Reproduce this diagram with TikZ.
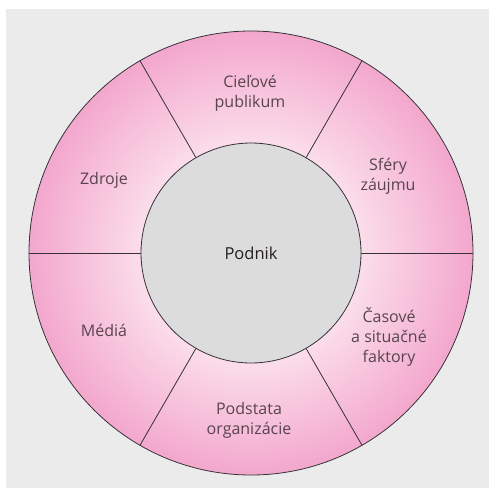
\documentclass[tikz,border=0pt]{standalone}
\usepackage{fontspec}
\setmainfont{Open Sans}
\definecolor{bggray}{RGB}{235,235,236}
\definecolor{coregray}{RGB}{220,220,221}
\definecolor{ringin}{RGB}{251,221,234}
\definecolor{ringout}{RGB}{243,167,205}
\definecolor{linegray}{RGB}{55,50,55}
\definecolor{lbltext}{RGB}{88,68,80}
\pgfdeclareradialshading{ringshade}{\pgfpoint{0bp}{0bp}}{color(0bp)=(ringin); color(12.4bp)=(ringin); color(25bp)=(ringout); color(50bp)=(ringout)}

\begin{document}
\begin{tikzpicture}[x=1pt,y=1pt,
    lbl/.style={align=center, text=lbltext, font=\fontsize{16}{20}\selectfont},
    divider/.style={draw=linegray, line width=0.8pt}]
    \useasboundingbox (-251,253) rectangle (238,-235);
    \fill[bggray] (-245,244) rectangle (238,-235);
    \shade[shading=ringshade] (0,0) circle [radius=222];
    \draw[divider] (0,0) circle [radius=222];
    \node[circle, minimum size=220pt, inner sep=0pt, fill=coregray, divider,
      font=\fontsize{16.5}{20}\selectfont, text={rgb,255:red,35;green,31;blue,32}] (core) at (0,0) {Podnik};
    \foreach \a in {0,60,...,300}
    \draw[divider] (core.\a) -- (\a:222);
    \foreach \nm/\x/\y/\txt in {publikum/-1/160/{Cieľové\\publikum},
      sfery/137/77/{Sféry\\záujmu}, zdroje/-147/73/Zdroje, media/-147/-77/Médiá,
      podstata/-2/-167/{Podstata\\organizácie}, faktory/138/-84/{Časové\\a situačné\\faktory}}
    \node[lbl] (\nm) at (\x,\y) {\txt};
\end{tikzpicture}
\end{document}
